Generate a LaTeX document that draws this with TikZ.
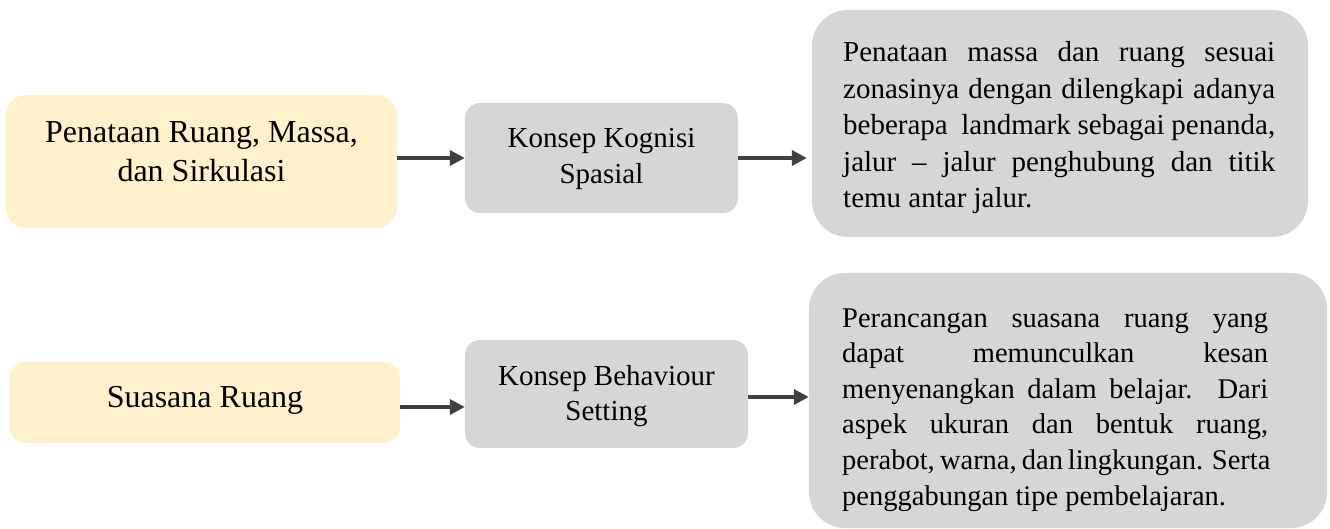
\documentclass[tikz,border=0pt]{standalone}
\usepackage{fontspec}
\setmainfont{Liberation Serif}
\usetikzlibrary{arrows.meta}
\definecolor{boxyellow}{RGB}{255,241,204}
\definecolor{boxgray}{RGB}{214,213,215}
\definecolor{arrowgray}{RGB}{64,64,64}
\newcommand{\jline}[1]{\makebox[\linewidth][s]{#1}}
\begin{document}
\begin{tikzpicture}[x=1pt,y=-1pt,
  panel/.style={rectangle, inner sep=0pt, draw=none},
  ypanel/.style={panel, fill=boxyellow},
  gpanel/.style={panel, fill=boxgray},
  txt/.style={inner sep=0pt, anchor=base, text=black},
  arr/.style={draw=arrowgray, line width=3.5pt, -{Triangle[length=15pt,width=15pt]}}]
\useasboundingbox (0,0) rectangle (1330,529);

% boxes
\node[ypanel, rounded corners=20pt, minimum width=391pt, minimum height=133pt] (a1) at (201.5,161.5) {};
\node[gpanel, rounded corners=15pt, minimum width=273pt, minimum height=110pt] (b1) at (601.5,158) {};
\node[gpanel, rounded corners=36pt, minimum width=496pt, minimum height=227pt] (c1) at (1060,123.5) {};

\node[ypanel, rounded corners=16pt, minimum width=390pt, minimum height=81pt] (a2) at (205,402.5) {};
\node[gpanel, rounded corners=15pt, minimum width=283pt, minimum height=108pt] (b2) at (606.5,394) {};
\node[gpanel, rounded corners=36pt, minimum width=518pt, minimum height=255pt] (c2) at (1068,400.5) {};

% texts
\node[txt] (ta1) at (201.5,143) {\parbox[t]{391pt}{\centering\fontsize{32}{39}\selectfont Penataan Ruang, Massa,\\dan Sirkulasi}};
\node[txt] (tb1) at (601.5,148) {\parbox[t]{273pt}{\centering\fontsize{29}{35.5}\selectfont Konsep Kognisi\\Spasial}};
\node[txt, anchor=base west] (tc1) at (843,61.5) {\parbox[t]{432pt}{\fontsize{29}{36.6}\selectfont
\jline{Penataan massa dan ruang sesuai}\\
\jline{zonasinya dengan dilengkapi adanya}\\
\jline{beberapa\ \ landmark sebagai penanda,}\\
\jline{jalur – jalur penghubung dan titik}\\
temu antar jalur.}};

\node[txt] (ta2) at (205,407) {\fontsize{32}{39}\selectfont Suasana Ruang};
\node[txt] (tb2) at (606.5,385) {\parbox[t]{283pt}{\centering\fontsize{29}{35.5}\selectfont Konsep Behaviour\\Setting}};
\node[txt, anchor=base west] (tc2) at (842,327) {\parbox[t]{426pt}{\fontsize{28.5}{35.6}\selectfont
\jline{Perancangan suasana ruang yang}\\
\jline{dapat memunculkan kesan}\\
\jline{menyenangkan dalam belajar.\ \ Dari}\\
\jline{aspek ukuran dan bentuk ruang,}\\
\jline{perabot, warna, dan lingkungan. Serta}\\
penggabungan tipe pembelajaran.}};

% arrows
\draw[arr] (a1.east |- b1.west) -- (b1.west);
\draw[arr, shorten >=5pt] (b1.east) -- (b1.east -| c1.west);
\draw[arr] ([yshift=-4.5pt]a2.east) -- ([yshift=-4.5pt]a2.east -| b2.west);
\draw[arr] ([yshift=-3pt]b2.east) -- ([yshift=-3pt]b2.east -| c2.west);
\end{tikzpicture}
\end{document}
